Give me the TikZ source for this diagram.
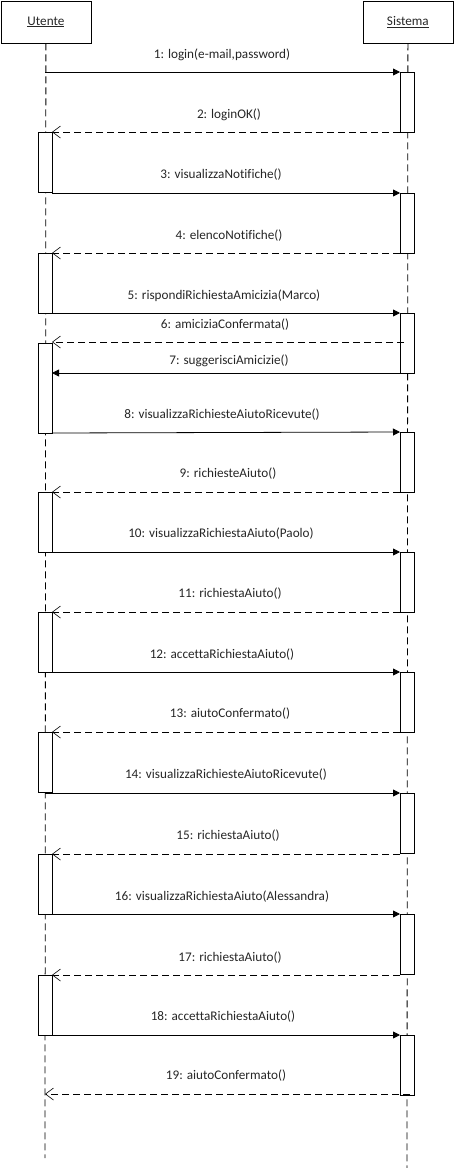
\documentclass[tikz,border=0pt]{standalone}
\usepackage{fontspec}
\setmainfont{Carlito}[Ligatures=NoCommon]
\usetikzlibrary{arrows.meta}
\begin{document}
\begin{tikzpicture}[x=1pt,y=-1pt,
  every node/.style={font=\fontsize{13.2}{15}\selectfont, inner sep=0pt, text=black!85},
  header/.style={draw=black, line width=0.8pt, minimum width=90pt, minimum height=42pt, anchor=north west},
  lifeline/.style={line width=0.8pt, dash pattern=on 7pt off 4pt},
  actbox/.style={draw, line width=0.8pt, fill=white},
  call/.style={line width=0.8pt, -{Triangle[length=7pt,width=7pt]}},
  reply/.style={line width=0.8pt, dash pattern=on 7pt off 4pt, -{Straight Barb[length=8pt,width=12pt,line width=0.6pt]}},
  msg/.style={anchor=center}]
\useasboundingbox (0,0) rectangle (453,1168);

% lifeline heads
\node[header] (utente) at (0.5,0.5) {\underline{Utente}};
\node[header] (sistema) at (362.5,0.5) {\underline{Sistema}};

% lifelines
\coordinate (uend) at (45,1158);
\coordinate (send) at (407,1168);
\draw[lifeline] (utente.south) -- (uend);
\draw[lifeline] (sistema.south) -- (send);

% activation bars of Sistema
\foreach \a/\b in {72/132,193/253,313/373,432/492,552/612,672/732,793/853,914/974,1035/1095}
  \draw[actbox] (400,\a) rectangle (414,\b);
% activation bars of Utente
\foreach \a/\b in {132/192,253/313,343/433,492/552,612/672,732/792,854/914,975/1035}
  \draw[actbox] (38,\a) rectangle (52,\b);

% message end points
\coordinate (u1) at (45,72);    \coordinate (s1) at (400,72);
\coordinate (s2) at (400,132);  \coordinate (u2) at (52,132);
\coordinate (u3) at (52,193);   \coordinate (s3) at (400,193);
\coordinate (s4) at (400,253);  \coordinate (u4) at (52,253);
\coordinate (u5) at (52,313);   \coordinate (s5) at (400,313);
\coordinate (s6) at (404,342);  \coordinate (u6) at (52,342);
\coordinate (s7) at (400,373);  \coordinate (u7) at (52,373);
\coordinate (u8) at (52,433);   \coordinate (s8) at (400,432);
\coordinate (s9) at (400,492);  \coordinate (u9) at (52,492);
\coordinate (u10) at (52,552);  \coordinate (s10) at (400,552);
\coordinate (s11) at (400,612); \coordinate (u11) at (52,612);
\coordinate (u12) at (52,672);  \coordinate (s12) at (400,672);
\coordinate (s13) at (400,732); \coordinate (u13) at (52,732);
\coordinate (u14) at (45,793);  \coordinate (s14) at (400,793);
\coordinate (s15) at (400,854); \coordinate (u15) at (52,854);
\coordinate (u16) at (52,914);  \coordinate (s16) at (400,914);
\coordinate (s17) at (400,975); \coordinate (u17) at (52,975);
\coordinate (u18) at (52,1035); \coordinate (s18) at (400,1035);
\coordinate (s19) at (410,1094); \coordinate (u19) at (45,1094);

% messages
\draw[call]  (u1) -- (s1);
\draw[reply] (s2) -- (u2);
\draw[call]  (u3) -- (s3);
\draw[reply] (s4) -- (u4);
\draw[call]  (u5) -- (s5);
\draw[reply] (s6) -- (u6);
\draw[call]  (s7) -- (u7);
\draw[call]  (u8) -- (s8);
\draw[reply] (s9) -- (u9);
\draw[call]  (u10) -- (s10);
\draw[reply] (s11) -- (u11);
\draw[call]  (u12) -- (s12);
\draw[reply] (s13) -- (u13);
\draw[call]  (u14) -- (s14);
\draw[reply] (s15) -- (u15);
\draw[call]  (u16) -- (s16);
\draw[reply] (s17) -- (u17);
\draw[call]  (u18) -- (s18);
\draw[reply] (s19) -- (u19);

% message labels
\node[msg] (l1)  at (222,55)   {1: login(e-mail,password)};
\node[msg] (l2)  at (229,115)  {2: loginOK()};
\node[msg] (l3)  at (221,175)  {3: visualizzaNotifiche()};
\node[msg] (l4)  at (229,236)  {4: elencoNotifiche()};
\node[msg] (l5)  at (224,296)  {5: rispondiRichiestaAmicizia(Marco)};
\node[msg] (l6)  at (225,325)  {6: amiciziaConfermata()};
\node[msg] (l7)  at (229,361)  {7: suggerisciAmicizie()};
\node[msg] (l8)  at (222,415)  {8: visualizzaRichiesteAiutoRicevute()};
\node[msg] (l9)  at (228,474)  {9: richiesteAiuto()};
\node[msg] (l10) at (221,534)  {10: visualizzaRichiestaAiuto(Paolo)};
\node[msg] (l11) at (230,594)  {11: richiestaAiuto()};
\node[msg] (l12) at (222,655)  {12: accettaRichiestaAiuto()};
\node[msg] (l13) at (230,714)  {13: aiutoConfermato()};
\node[msg] (l14) at (226,775)  {14: visualizzaRichiesteAiutoRicevute()};
\node[msg] (l15) at (228,836)  {15: richiestaAiuto()};
\node[msg] (l16) at (222,897)  {16: visualizzaRichiestaAiuto(Alessandra)};
\node[msg] (l17) at (230,958)  {17: richiestaAiuto()};
\node[msg] (l18) at (223,1017) {18: accettaRichiestaAiuto()};
\node[msg] (l19) at (226,1076) {19: aiutoConfermato()};
\end{tikzpicture}
\end{document}
